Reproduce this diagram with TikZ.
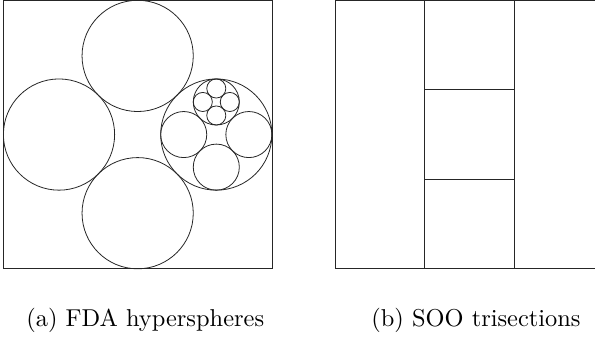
\documentclass[tikz,border=0pt]{standalone}
\usepackage{fontspec}
\newfontfamily\capfont{lmroman10-regular}[Extension=.otf]
\usetikzlibrary{calc}
\begin{document}
\begin{tikzpicture}[x=1bp,y=-1bp,
  edge/.style={line width=0.8bp,draw=black!85},
  caption/.style={anchor=base west,inner sep=0pt,font=\capfont\fontsize{24.5}{30}\selectfont}]
\useasboundingbox (0,0) rectangle (595,337);
\clip (0,0) rectangle (595,337);

% (a) hypersphere packing: square of side 268.5
\def\side{268.5}
\coordinate (ca) at (137.65,134.55);
\draw[edge] (3.4,0.3) rectangle (271.9,268.8);
% four tangent circles of radius S/(2(1+sqrt2))
\pgfmathsetmacro{\ra}{\side/(2*(1+sqrt(2)))}
\pgfmathsetmacro{\da}{\ra*sqrt(2)}
\foreach \ang in {0,90,180,270}
  \draw[edge] ($(ca)+(\ang:\da)$) circle[radius=\ra];
% second level inside the right circle
\coordinate (cb) at ($(ca)+(\da,0)$);
\pgfmathsetmacro{\rb}{\ra*(sqrt(2)-1)}
\pgfmathsetmacro{\db}{\rb*sqrt(2)}
\foreach \ang in {0,90,180,270}
  \draw[edge] ($(cb)+(\ang:\db)$) circle[radius=\rb];
% third level inside the upper sub-circle
\coordinate (cc) at ($(cb)+(0,-\db)$);
\pgfmathsetmacro{\rc}{\rb*(sqrt(2)-1)}
\pgfmathsetmacro{\dc}{\rc*sqrt(2)}
\foreach \ang in {0,90,180,270}
  \draw[edge] ($(cc)+(\ang:\dc)$) circle[radius=\rc];

% (b) trisection of the square
\draw[edge] (335,0.3) rectangle (603.5,268.8);
\draw[edge] (424.5,0.3) -- (424.5,268.8);
\draw[edge] (514,0.3) -- (514,268.8);
\draw[edge] (424.5,89.8) -- (514,89.8);
\draw[edge] (424.5,179.3) -- (514,179.3);

\node[caption] (capa) at (26.2,326) {(a) FDA hyperspheres};
\node[caption] (capb) at (371.2,326) {(b) SOO trisections};
\end{tikzpicture}
\end{document}
